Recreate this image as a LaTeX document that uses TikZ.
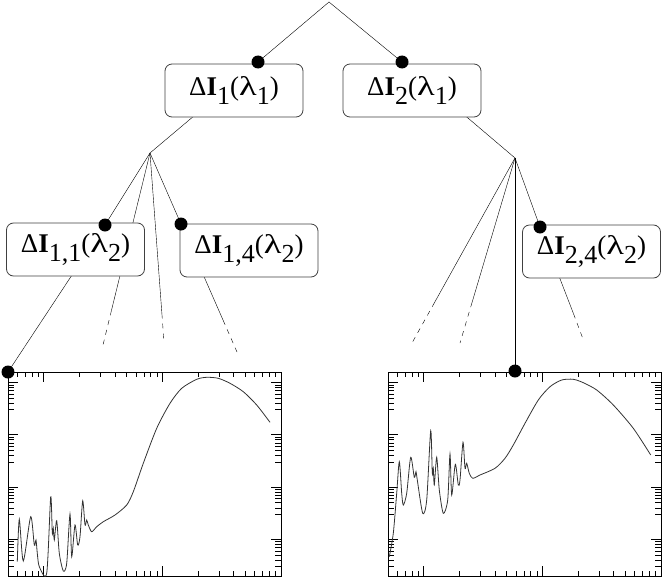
\documentclass[tikz,border=0pt]{standalone}
\usepackage{fontspec}
\setmainfont{Liberation Serif}
\usetikzlibrary{calc,backgrounds}
\newcommand{\lowsub}[1]{\raisebox{-0.36em}{\fontsize{26}{26}\selectfont #1}}
\newcommand{\lam}{\scalebox{1.35}[1]{λ}}
\newcommand{\dI}[2]{Δ\textbf{I}\lowsub{#1}(\lam\lowsub{#2})}

\begin{document}
\begin{tikzpicture}[x=1pt, y=-1pt,
        line width=0.8pt,
        lbox/.style = {shape=rectangle, rounded corners=7pt, draw=black!75,
            fill=white, minimum width=138pt, minimum height=53pt,
            inner sep=0pt, font=\fontsize{27}{27}\selectfont},
        knot/.style = {circle, fill=black, inner sep=0pt, minimum size=13pt},
        faded/.style = {dash pattern=on 5pt off 5pt},
        curve/.style = {black!80, line width=0.8pt}]
    \useasboundingbox (0,0) rectangle (663,578);

    \foreach \ox in {8,388} {
        \begin{scope}[shift={(\ox,372)}, line width=0.7pt]
            \draw (0,0) rectangle (273,204);
            \foreach \v in {0.6,0.7,0.8,0.9,2,3,4,5,6,7,8,9,20,30,40,50,60,70,80,90} {
                \pgfmathsetmacro\tx{(log10(\v)+0.30103)*118.6}
                \draw (\tx,0) -- ++(0,5) (\tx,204) -- ++(0,-5);
            }
            \foreach \v in {1,10} {
                \pgfmathsetmacro\tx{(log10(\v)+0.30103)*118.6}
                \draw (\tx,0) -- ++(0,10) (\tx,204) -- ++(0,-10);
            }
            \foreach \d in {0,1,2,3} {
                \pgfmathsetmacro\ty{(3.2-\d)*52.3}
                \draw (0,\ty) -- ++(10,0) (273,\ty) -- ++(-10,0);
            }
            \foreach \d in {-1,0,1,2}
                \foreach \k in {3,...,9} {
                    \pgfmathsetmacro\ty{(3.2-\d-log10(\k))*52.3}
                    \draw (0,\ty) -- ++(6,0) (273,\ty) -- ++(-6,0);
                }
        \end{scope}
    }

    \draw[curve] plot[smooth, tension=0.45] coordinates {
        (17.3,561.7) (19.3,519.3) (23.3,561) (30.7,516.7) (34.3,545) (36,540)
        (37.3,553.3) (39.3,566.7) (46.7,573.3) (50.7,496.7) (52.3,533.3)
        (53.3,528.3) (54.3,540) (56.7,520.7) (59.3,553.3) (63.3,571)
        (66.7,563.3) (70,514) (71.7,556.7) (75,525) (77.7,545) (80,536.7)
        (82.7,500.7) (85,525) (86.7,520) (88.3,525) (91.7,531.7) (96.7,526.7)
        (103.3,521.7) (115,515) (126.7,505) (133.3,491.7) (143.3,463.3)
        (156.7,428.3) (170,403.3) (181.7,388.3) (196.7,379.3) (206.7,377.3)
        (218.3,378.3) (230,383.3) (243.3,391.7) (256.7,405) (270,422.3)};
    \draw[curve] plot[smooth, tension=0.45] coordinates {
        (389.3,556.7) (393.3,533.3) (396.7,493.3) (399.3,461.7) (401.7,493.3)
        (403.3,505) (406.7,493.3) (410.7,457.3) (414.3,477.3) (416,471.7)
        (417.3,480) (422.7,513.3) (426.7,500) (430.7,430.7) (432.3,473.3)
        (433.3,468.3) (434.3,485) (436.7,457.3) (439.3,490) (443.3,513.3)
        (447.7,500) (450,454) (451.7,495) (455.3,464.3) (458.3,485) (460,480)
        (463,442.3) (465,468.3) (466.7,463.3) (469.3,473.3) (472.7,478.3)
        (480,475) (495,468.3) (505,458.3) (513.3,445) (525,423.3) (538.3,400)
        (550,386.7) (561.7,380) (573.3,379.3) (583.3,382.7) (596.7,390)
        (613.3,405) (633.3,428.3) (650.7,455)};

    \node[lbox] (b1) at (234,90.5) {\dI{1}{1}};
    \node[lbox] (b2) at (412,90.5) {\dI{2}{1}};
    \node[lbox] (b11) at (75.5,249.5) {\dI{1,1}{2}};
    \node[lbox] (b14) at (249,250.5) {\dI{1,4}{2}};
    \node[lbox] (b24) at (591.5,251.5) {\dI{2,4}{2}};

    \node[knot] (k1) at (258,62) {};
    \node[knot] (k2) at (402,62) {};
    \node[knot] (k11) at (105,225) {};
    \node[knot] (k14) at (181,224) {};
    \node[knot] (k24) at (540,227) {};
    \node[knot] (ka) at (8,372) {};
    \node[knot] (kb) at (515,371) {};

    \coordinate (root) at (329,2);
    \coordinate (fl) at (150,153);
    \coordinate (fr) at (515,158);
    \coordinate (el2) at (103,345);
    \coordinate (el3) at (164,342);
    \coordinate (el4) at (237,352);
    \coordinate (er1) at (412,343);
    \coordinate (er2) at (460,343);
    \coordinate (er4) at (583,339);

    \begin{scope}[on background layer]
        \draw (k1.center) -- (root) -- (k2.center);
        \draw (k1.center) -- (fl);
        \draw (k2.center) -- (fr);
        \draw (fl) -- (k11.center) -- (ka.center);
        \draw (fl) -- ($(fl)!.82!(el2)$) coordinate (ml2);
        \draw[faded] (ml2) -- (el2);
        \draw (fl) -- ($(fl)!.85!(el3)$) coordinate (ml3);
        \draw[faded] (ml3) -- (el3);
        \draw (fl) -- (k14.center) -- ($(fl)!.84!(el4)$) coordinate (ml4);
        \draw[faded] (ml4) -- (el4);
        \draw (fr) -- ($(fr)!.78!(er1)$) coordinate (mr1);
        \draw[faded] (mr1) -- (er1);
        \draw (fr) -- ($(fr)!.78!(er2)$) coordinate (mr2);
        \draw[faded] (mr2) -- (er2);
        \draw (fr) -- (kb.center);
        \draw (fr) -- (k24.center) -- ($(fr)!.86!(er4)$) coordinate (mr4);
        \draw[faded] (mr4) -- (er4);
    \end{scope}
\end{tikzpicture}
\end{document}
